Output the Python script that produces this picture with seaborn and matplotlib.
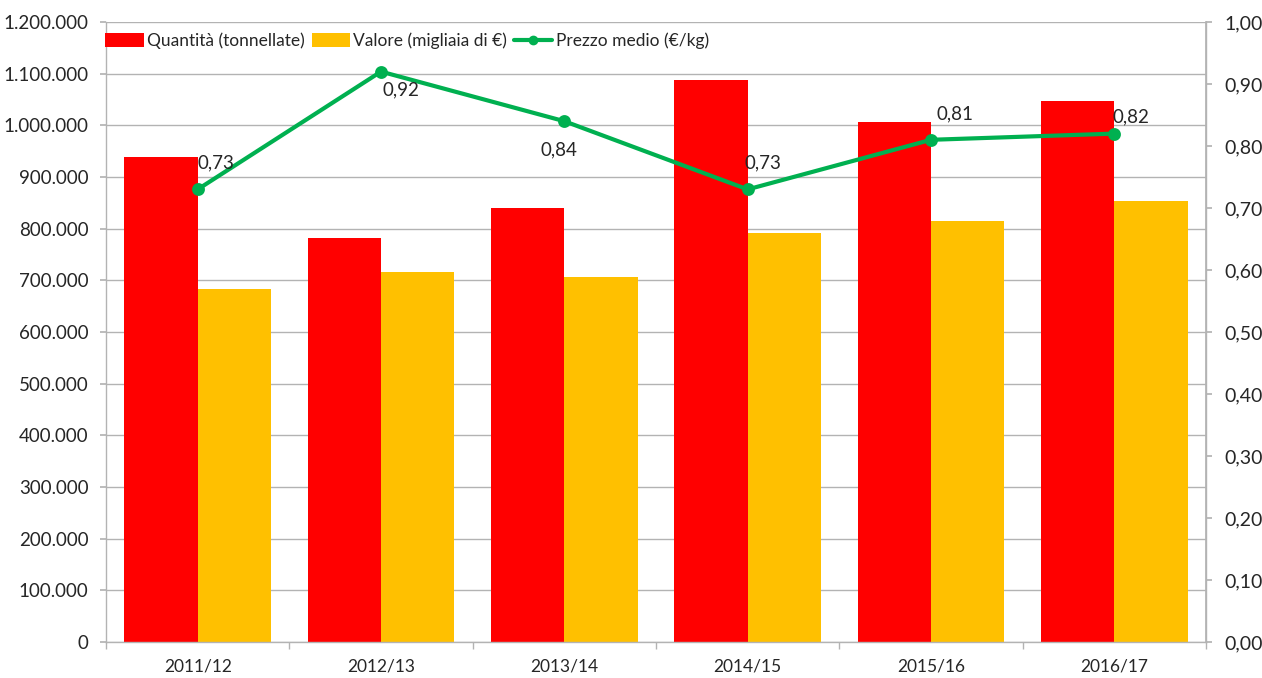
import matplotlib
matplotlib.use("Agg")
import matplotlib.pyplot as plt
import seaborn as sns
import pandas as pd
import numpy as np
from matplotlib.ticker import FuncFormatter, MultipleLocator, FixedLocator
from matplotlib.patches import Patch
from matplotlib.lines import Line2D

categories = ["2011/12", "2012/13", "2013/14", "2014/15", "2015/16", "2016/17"]
quantita = [939000, 782000, 840000, 1088000, 1007000, 1047000]
valore = [683000, 717000, 706000, 792000, 815000, 854000]
prezzo = [0.73, 0.92, 0.84, 0.73, 0.81, 0.82]
series_names = ["Quantità (tonnellate)", "Valore (migliaia di €)", "Prezzo medio (€/kg)"]
label_offsets = [(13, 19), (14, -13), (-4, -21), (11, 19), (17, 19), (12, 12)]

RED = "#FF0000"
YELLOW = "#FFC000"
GREEN = "#00B050"
GRID = "#B3B3B3"
TEXT = "#262626"

sns.set_theme(style="white")
plt.rcParams['font.family'] = ['Lato', 'DejaVu Sans']

df = pd.DataFrame({
    "anno": categories * 2,
    "valore": quantita + valore,
    "serie": [series_names[0]] * len(categories) + [series_names[1]] * len(categories),
})

fig = plt.figure(figsize=(12.62, 6.78), dpi=100)
ax = fig.add_axes([106 / 1262, 1 - 642 / 678, 1100 / 1262, 620 / 678])

sns.barplot(data=df, x="anno", y="valore", hue="serie", palette=[RED, YELLOW],
            width=0.8, gap=0, ax=ax, legend=False, saturation=1, errorbar=None)
for p in ax.patches:
    p.set_edgecolor("none")

ax.set_ylim(0, 1200000)
ax.yaxis.set_major_locator(MultipleLocator(100000))
ax.yaxis.set_major_formatter(FuncFormatter(lambda v, p: f"{int(round(v)):,}".replace(",", ".")))
ax.grid(axis="y", color=GRID, linewidth=1)
ax.set_axisbelow(True)
ax.set_xlim(-0.5, len(categories) - 0.5)
ax.set_xlabel("")
ax.set_ylabel("")

ax.xaxis.set_minor_locator(FixedLocator(np.arange(-0.5, len(categories), 1.0)))
ax.tick_params(axis="x", which="major", length=0, pad=12, labelsize=12.5, labelcolor=TEXT)
ax.tick_params(axis="x", which="minor", length=5, color=GRID, direction="out", bottom=True)
ax.tick_params(axis="y", length=4.5, color=GRID, direction="out", left=True, labelsize=13.5, labelcolor=TEXT, pad=8)

for s in ["left", "bottom", "right"]:
    ax.spines[s].set_color(GRID)
    ax.spines[s].set_linewidth(1)
ax.spines["top"].set_visible(False)

ax2 = ax.twinx()
sns.pointplot(x=categories, y=prezzo, ax=ax2, color=GREEN, markers="o",
              linewidth=3, markersize=7, errorbar=None)
ax2.set_ylim(0, 1.0)
ax2.set_xlim(-0.5, len(categories) - 0.5)
ax2.yaxis.set_major_locator(MultipleLocator(0.1))
ax2.yaxis.set_major_formatter(FuncFormatter(lambda v, p: f"{v:.2f}".replace(".", ",")))
ax2.tick_params(axis="y", length=4.5, color=GRID, direction="out", right=True, labelsize=14, labelcolor=TEXT, pad=9)
for s in ["left", "bottom", "top"]:
    ax2.spines[s].set_visible(False)
ax2.spines["right"].set_color(GRID)
ax2.set_ylabel("")
ax2.grid(False)

for i, (v, off) in enumerate(zip(prezzo, label_offsets)):
    ax2.annotate(f"{v:.2f}".replace(".", ","), xy=(i, v), xytext=off,
                 textcoords="offset points", ha="center", va="center",
                 fontsize=13.5, color=TEXT)

handles = [Patch(facecolor=RED, edgecolor="none"),
           Patch(facecolor=YELLOW, edgecolor="none"),
           Line2D([0], [0], color=GREEN, linewidth=3, marker="o", markersize=6)]
ax2.legend(handles, series_names, loc="upper left", bbox_to_anchor=(-0.01, 1.0),
           ncol=3, frameon=False, fontsize=12.5, handlelength=2.2, handleheight=0.8,
           handletextpad=0.2, columnspacing=0.4, borderaxespad=0.2, labelcolor=TEXT)

fig.savefig("out.png", dpi=100, facecolor="white")
